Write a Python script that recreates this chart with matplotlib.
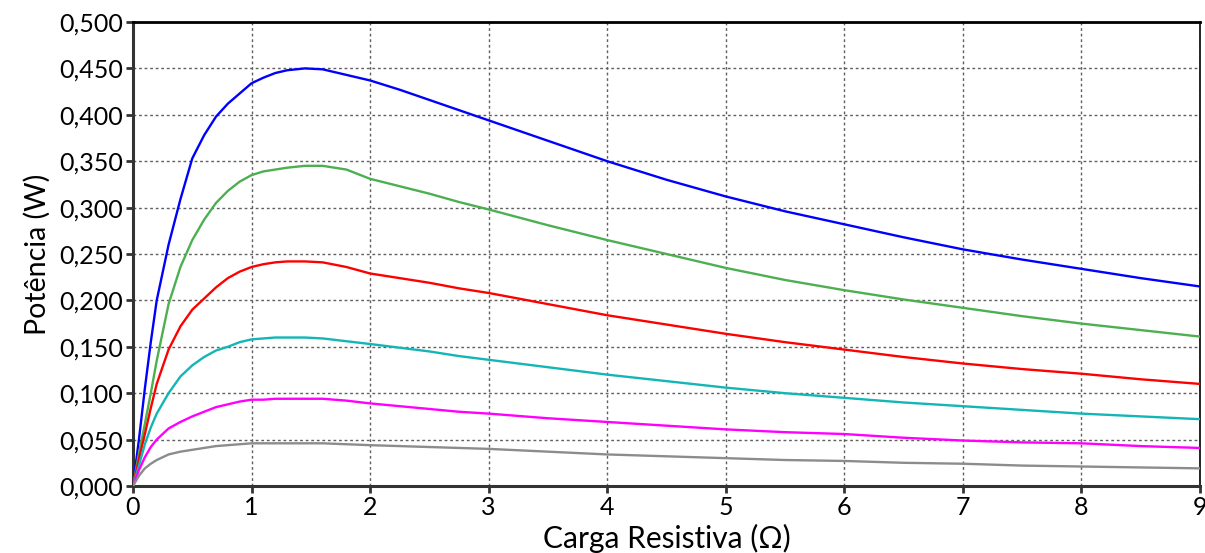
import matplotlib.pyplot as plt

plt.rcParams['font.family'] = ['Lato', 'DejaVu Sans']

# Carga resistiva (ohm)
carga = [0, 0.05, 0.1, 0.15, 0.2, 0.3, 0.4, 0.5, 0.6, 0.7, 0.8, 0.9, 1.0, 1.1, 1.2, 1.3,
         1.45, 1.6, 1.8, 2.0, 2.25, 2.5, 2.75, 3.0, 3.5, 4.0, 4.5, 5.0, 5.5, 6.0, 6.5,
         7.0, 7.5, 8.0, 8.5, 9.0]

# Potencia (W) de cada curva
p_azul = [0, .050, .105, .155, .200, .260, .309, .353, .378, .398, .412, .423, .434, .440,
          .445, .448, .450, .449, .443, .437, .427, .416, .405, .394, .372, .350, .330,
          .312, .296, .282, .268, .255, .244, .234, .224, .215]
p_verde = [0, .035, .067, .100, .135, .196, .236, .265, .287, .305, .318, .328, .335, .339,
           .341, .343, .345, .345, .341, .331, .323, .315, .306, .298, .281, .265, .250,
           .235, .222, .211, .201, .192, .183, .175, .168, .161]
p_vermelho = [0, .029, .056, .084, .110, .147, .172, .190, .202, .214, .224, .231, .236, .239,
              .241, .242, .242, .241, .236, .229, .224, .219, .213, .208, .196, .184, .174,
              .164, .155, .147, .139, .132, .126, .121, .115, .110]
p_ciano = [0, .022, .045, .063, .078, .100, .118, .130, .139, .146, .150, .155, .158, .159,
           .160, .160, .160, .159, .156, .153, .149, .145, .140, .136, .128, .120, .113,
           .106, .100, .095, .090, .086, .082, .078, .075, .072]
p_magenta = [0, .017, .031, .042, .050, .062, .069, .075, .080, .085, .088, .091, .093, .093,
             .094, .094, .094, .094, .092, .089, .086, .083, .080, .078, .073, .069, .065,
             .061, .058, .056, .052, .049, .047, .046, .043, .041]
p_cinza = [0, .011, .019, .024, .028, .034, .037, .039, .041, .043, .044, .045, .046, .046,
           .046, .046, .046, .046, .045, .044, .043, .042, .041, .040, .037, .034, .032,
           .030, .028, .027, .025, .024, .022, .021, .020, .019]

xticks = [0, 1, 2, 3, 4, 5, 6, 7, 8, 9]
yticks = [0, 0.05, 0.1, 0.15, 0.2, 0.25, 0.3, 0.35, 0.4, 0.45, 0.5]
ylabels = ['0,000', '0,050', '0,100', '0,150', '0,200', '0,250',
           '0,300', '0,350', '0,400', '0,450', '0,500']

fig = plt.figure(figsize=(12.05, 5.53), dpi=100)
ax = fig.add_axes([133/1205, 67/553, 1067/1205, 464/553])

curvas = [(p_azul, '#0000ff'), (p_verde, '#4caf50'), (p_vermelho, '#ff0000'),
          (p_ciano, '#13b5b5'), (p_magenta, '#ff00ff'), (p_cinza, '#8c8c8c')]
for p, c in curvas:
    ax.plot(carga, p, color=c, lw=1.7, zorder=3)

ax.set_xlim(0, 9)
ax.set_ylim(0, 0.5)
ax.set_xticks(xticks)
ax.set_yticks(yticks)
ax.set_yticklabels(ylabels)
ax.grid(True, color='#606060', ls=(0, (2, 2)), lw=1)

for s in ['left', 'bottom']:
    ax.spines[s].set_linewidth(2.2)
    ax.spines[s].set_color('#333333')
ax.spines['top'].set_linewidth(2)
ax.spines['right'].set_linewidth(1.2)
ax.tick_params(direction='out', length=5, width=2, color='#333333',
               labelsize=18, pad=2)

ax.set_xlabel('Carga Resistiva (Ω)', fontsize=21.5, labelpad=4)
ax.set_ylabel('Potência (W)', fontsize=20.5, labelpad=6)

fig.savefig('out.png', dpi=100)
